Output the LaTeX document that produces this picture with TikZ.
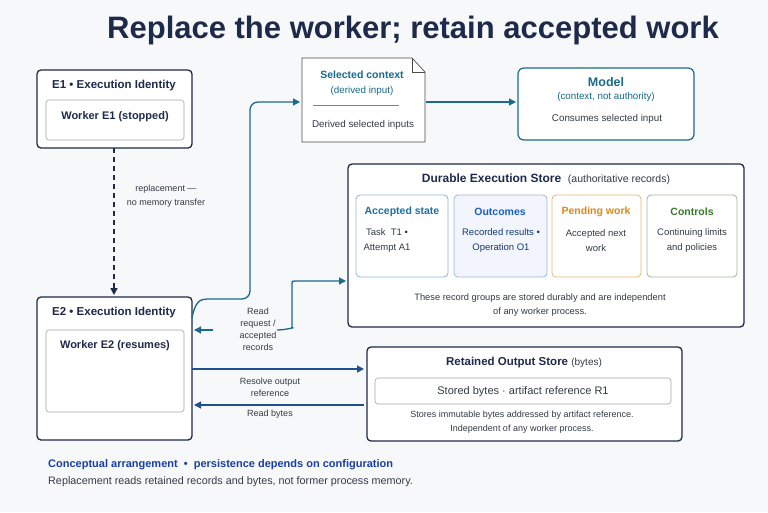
\documentclass[tikz,border=0pt]{standalone}
\usepackage{fontspec}
\setmainfont{Liberation Sans}
\usetikzlibrary{arrows.meta}
\definecolor{navy}{HTML}{1E2A4A}
\definecolor{teal}{HTML}{1A6A8A}
\definecolor{arrblue}{HTML}{1F4F8F}
\definecolor{bg}{HTML}{F7F8FA}
\definecolor{txt}{HTML}{333A45}
\definecolor{acc}{HTML}{1F6FA0}
\definecolor{outc}{HTML}{1F5FC0}
\definecolor{pend}{HTML}{D98A1A}
\definecolor{ctrl}{HTML}{3A7A2A}
\begin{document}
\begin{tikzpicture}[x=1pt,y=-1pt,
  lbl/.style={font=\fontsize{9.8}{12}\selectfont,text=txt,align=center,inner sep=0},
  hd/.style={font=\fontsize{11.5}{13}\selectfont\bfseries,inner sep=0},
  big/.style={draw=navy,line width=1.3pt,rounded corners=4pt,fill=white},
  inner/.style={draw=gray!70,line width=0.6pt,rounded corners=3pt,fill=white},
  tarr/.style={draw=teal,line width=1.3pt,-{Triangle[length=7pt,width=7pt]},rounded corners=8pt},
  barr/.style={draw=arrblue,line width=1.3pt,-{Triangle[length=7pt,width=7pt]}},
  grp/.style={line width=0.8pt,rounded corners=4pt}]
\fill[bg] (0,0) rectangle (768,512);
\node[font=\fontsize{31}{34}\selectfont\bfseries,text=navy] (title) at (413,30) {Replace the worker; retain accepted work};
% E1
\draw[big] (37,70) rectangle (192,148);
\node[hd,text=navy] (e1t) at (114,86) {E1 \textbullet\ Execution Identity};
\draw[inner] (46,100) rectangle (184,140);
\node[hd,text=navy,font=\fontsize{11}{13}\selectfont\bfseries] (w1) at (115,117) {Worker E1 (stopped)};
\coordinate (e1b) at (114,148);
% E2
\draw[big] (37,297) rectangle (192,440);
\node[hd,text=navy] (e2t) at (114,313) {E2 \textbullet\ Execution Identity};
\draw[inner] (46,330) rectangle (184,412);
\node[hd,text=navy,font=\fontsize{11}{13}\selectfont\bfseries] (w2) at (115,346) {Worker E2 (resumes)};
\coordinate (e2top) at (114,295);
\draw[navy,line width=1.4pt,dash pattern=on 5pt off 4pt,-{Triangle[length=7pt,width=7pt]}] (e1b) -- (e2top);
\node[lbl,font=\fontsize{9}{14}\selectfont] (rep) at (166,196) {replacement —\\no memory transfer};
% selected context
\draw[fill=white,draw=gray!60!black,line width=0.7pt] (302,58) -- (412,58) -- (425,72) -- (425,142) -- (302,142) -- cycle;
\draw[gray!60!black,line width=0.7pt] (412,58) -- (412,72) -- (425,72);
\node[hd,text=teal,font=\fontsize{10.5}{12}\selectfont\bfseries] (sct) at (362,75) {Selected context};
\node[lbl,text=teal] (scs) at (362,91) {(derived input)};
\draw[gray] (313,105) -- (399,105);
\node[lbl] (scb) at (363,125) {Derived selected inputs};
\coordinate (scw) at (300,102);
% model
\draw[draw=teal,line width=1.2pt,rounded corners=6pt,fill=white] (518,68) rectangle (694,140);
\node[hd,text=teal,font=\fontsize{12.5}{14}\selectfont\bfseries] (mt) at (606,82) {Model};
\node[lbl,text=teal] (ms) at (606,97) {(context, not authority)};
\node[lbl] (mb) at (607,119) {Consumes selected input};
\draw[barr,draw=teal] (426,102) -- (516,102);
% curve E2 -> context
\draw[tarr] (192,318) .. controls (195,302) and (200,299) .. (215,299) -- (250,299) -- (250,102) -- (scw);
% durable store
\draw[big] (348,164) rectangle (744,327);
\node[inner sep=0] (dst) at (546,179) {\fontsize{12}{14}\selectfont\bfseries\color{navy}Durable Execution Store\ \ \fontsize{10.5}{12}\mdseries\color{txt}(authoritative records)};
\draw[grp,draw=acc!50,fill=white] (356,195) rectangle (448,277);
\draw[grp,draw=outc!45,fill=outc!6] (454,195) rectangle (547,277);
\draw[grp,draw=pend!60,fill=white] (552,195) rectangle (641,277);
\draw[grp,draw=ctrl!50,fill=white] (647,195) rectangle (737,277);
\node[hd,text=acc,font=\fontsize{10.5}{12}\selectfont\bfseries] (g1) at (402,212) {Accepted state};
\node[hd,text=outc,font=\fontsize{10.5}{12}\selectfont\bfseries] (g2) at (500,212) {Outcomes};
\node[hd,text=pend,font=\fontsize{10.5}{12}\selectfont\bfseries] (g3) at (596,212) {Pending work};
\node[hd,text=ctrl,font=\fontsize{10.5}{12}\selectfont\bfseries] (g4) at (692,212) {Controls};
\node[lbl,font=\fontsize{9.5}{15}\selectfont] (g1b) at (387,241) {Task\ \ T1 \textbullet\\Attempt A1};
\node[lbl,font=\fontsize{9.5}{15}\selectfont,text=outc!60!black] (g2b) at (501,241) {Recorded results \textbullet\\Operation O1};
\node[lbl,font=\fontsize{9.5}{15}\selectfont] (g3b) at (596,241) {Accepted next\\work};
\node[lbl,font=\fontsize{9.5}{15}\selectfont] (g4b) at (692,241) {Continuing limits\\and policies};
\node[lbl,font=\fontsize{9.3}{14}\selectfont] (dsf) at (540,305) {These record groups are stored durably and are independent\\of any worker process.};
% read request arrows
\node[lbl,font=\fontsize{9}{12}\selectfont] (rr) at (258,329) {Read\\request /\\accepted\\records};
\draw[tarr] (277,330) -- (285,330) .. controls (292,328) .. (292,315) -- (292,292) .. controls (292,281) .. (303,281) -- (346,281);
\draw[tarr] (213,330) -- (194,330);
% retained output
\draw[big] (367,347) rectangle (682,441);
\node[inner sep=0] (rot) at (524,363) {\fontsize{11.5}{13}\selectfont\bfseries\color{navy}Retained Output Store\ \fontsize{10}{12}\mdseries\color{txt}(bytes)};
\draw[inner] (375,378) rectangle (671,404);
\node[lbl,font=\fontsize{11}{13}\selectfont] (rob) at (523,392) {Stored bytes \textperiodcentered\ artifact reference R1};
\node[lbl,font=\fontsize{9}{14}\selectfont] (rof) at (522,422) {Stores immutable bytes addressed by artifact reference.\\Independent of any worker process.};
\draw[barr] (192,369) -- (364,369);
\node[lbl,font=\fontsize{9}{12}\selectfont] (res) at (270,387) {Resolve output\\reference};
\draw[barr] (364,405) -- (194,405);
\node[lbl,font=\fontsize{9}{10}\selectfont] (rb) at (270,414) {Read bytes};
% footer
\node[anchor=west,inner sep=0,font=\fontsize{11}{13}\selectfont\bfseries,text=arrblue!80!blue] (f1) at (48,465) {Conceptual arrangement\ \ \textbullet\ \ persistence depends on configuration};
\node[anchor=west,inner sep=0,font=\fontsize{10.8}{13}\selectfont,text=txt] (f2) at (48,482) {Replacement reads retained records and bytes, not former process memory.};
\end{tikzpicture}
\end{document}
